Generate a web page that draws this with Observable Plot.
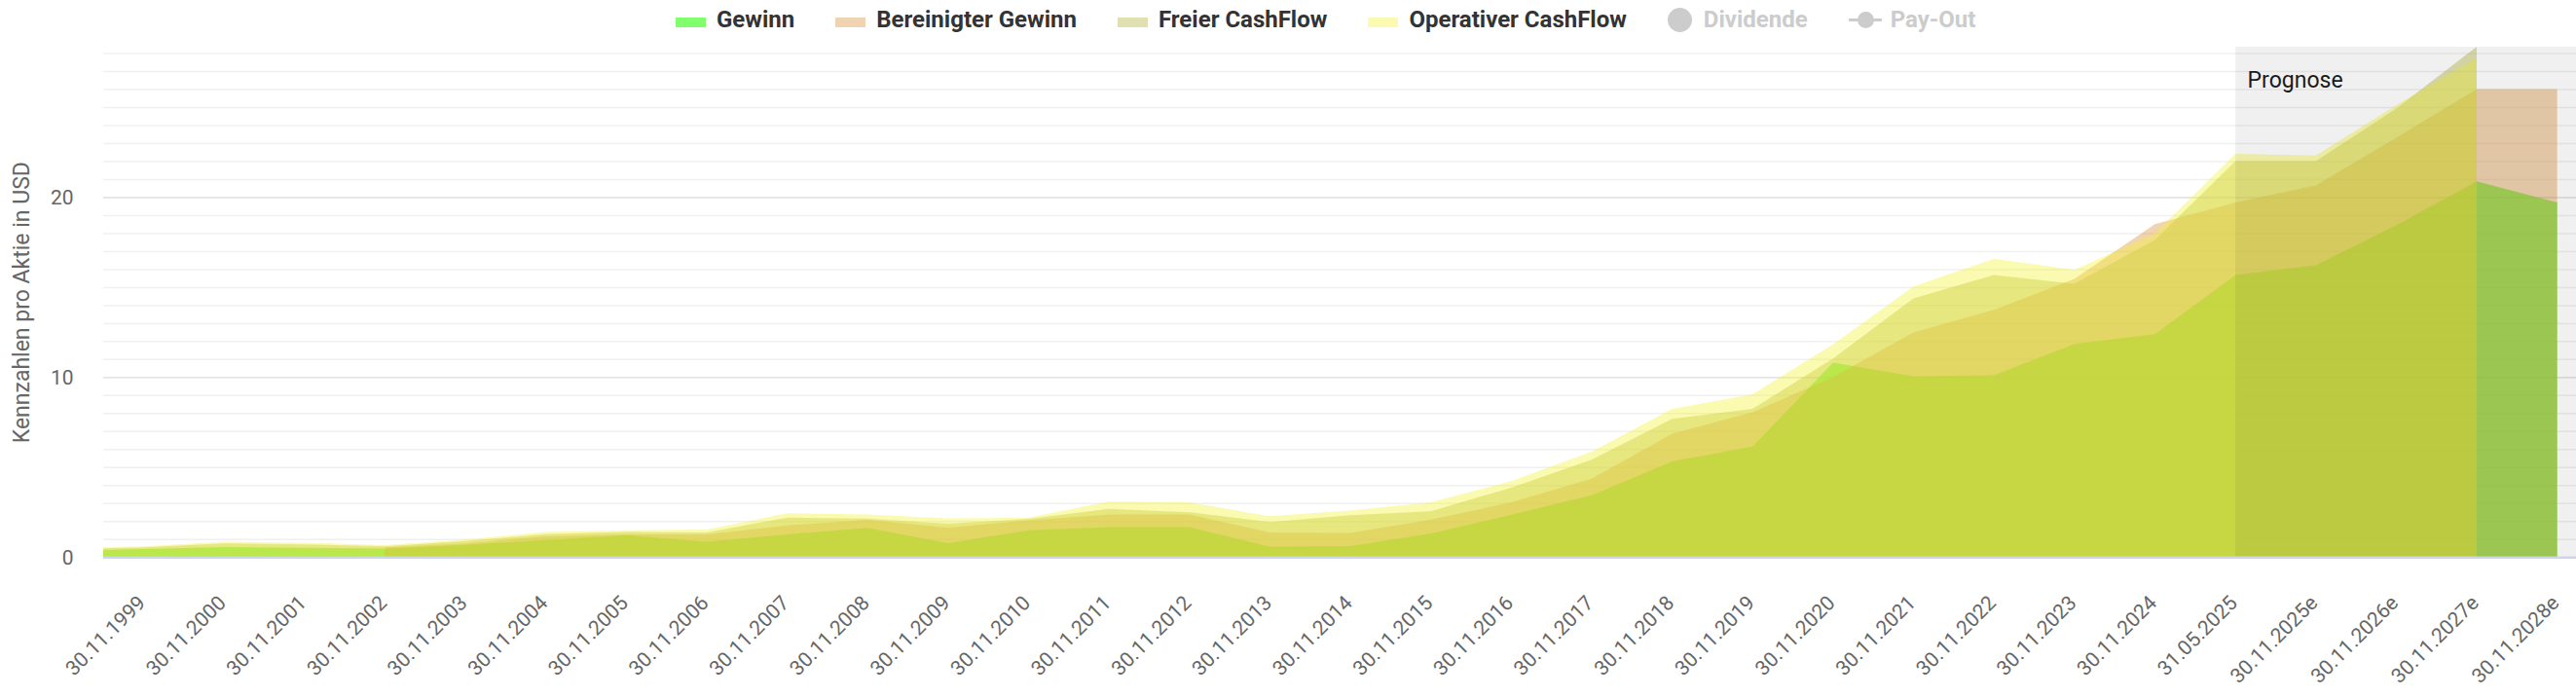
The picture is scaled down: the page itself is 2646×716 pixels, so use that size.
<!DOCTYPE html>
<html><head><meta charset="utf-8">
<script src="https://cdn.jsdelivr.net/npm/d3@7"></script>
<script src="https://cdn.jsdelivr.net/npm/@observablehq/plot@0.6"></script>
<style>
html,body{margin:0;padding:0;background:#fff;}
body{width:2646px;height:716px;overflow:hidden;font-family:Roboto,sans-serif;}
#legend{height:40px;display:flex;align-items:center;padding-left:694px;box-sizing:border-box;font-weight:bold;font-size:24px;color:#333;}
.item{display:flex;align-items:center;margin-right:42px;white-space:nowrap;}
.sw{width:31px;height:10px;margin-right:11px;margin-top:5px;}
.dot{width:25px;height:25px;border-radius:50%;background:#ccc;margin-right:12px;}
.po{position:relative;width:34px;height:25px;margin-right:9px;}
.po:before{content:"";position:absolute;left:0;right:0;top:11px;height:3px;background:#ccc;}
.po:after{content:"";position:absolute;left:9px;top:4px;width:17px;height:17px;border-radius:50%;background:#ccc;}
.off{color:#ccc;}
</style></head>
<body>
<div id="legend"></div>
<div id="chart"></div>
<script>
// categories (first entry lies left of the visible range, clipped at the plot edge)
const categories = ["30.11.1998","30.11.1999","30.11.2000","30.11.2001","30.11.2002","30.11.2003","30.11.2004","30.11.2005","30.11.2006","30.11.2007","30.11.2008","30.11.2009","30.11.2010","30.11.2011","30.11.2012","30.11.2013","30.11.2014","30.11.2015","30.11.2016","30.11.2017","30.11.2018","30.11.2019","30.11.2020","30.11.2021","30.11.2022","30.11.2023","30.11.2024","31.05.2025","30.11.2025e","30.11.2026e","30.11.2027e","30.11.2028e"];
const gewinn = [0.35,0.45,0.56,0.52,0.48,0.68,0.95,1.22,0.85,1.26,1.62,0.78,1.49,1.67,1.67,0.58,0.61,1.31,2.35,3.44,5.32,6.14,10.8,10.04,10.10,11.85,12.39,15.67,16.21,18.43,20.87,19.70];
const bereinigterGewinn = [null,null,null,null,0.55,0.76,1.15,1.26,1.26,1.76,2.07,1.64,2.04,2.37,2.37,1.37,1.34,2.09,3.04,4.35,6.86,8.05,10.0,12.48,13.74,15.45,18.49,19.70,20.65,23.3,26.0,26.0];
const freierCashFlow = [0.42,0.55,0.76,0.71,0.60,0.90,1.27,1.40,1.37,2.19,2.14,1.85,2.13,2.68,2.49,1.95,2.33,2.55,3.86,5.41,7.68,8.23,11.03,14.37,15.67,15.18,17.62,21.99,21.99,24.92,28.35,null];
const operativerCashFlow = [0.48,0.60,0.85,0.80,0.67,0.98,1.40,1.49,1.53,2.44,2.37,2.15,2.19,3.08,3.04,2.27,2.58,3.04,4.22,5.86,8.23,9.05,11.82,15.04,16.57,15.96,17.98,22.40,22.31,25.11,27.72,null];
const seriesNames = ["Gewinn","Bereinigter Gewinn","Freier CashFlow","Operativer CashFlow"];
const hiddenSeries = ["Dividende","Pay-Out"];
const forecastStart = "31.05.2025";
const yTicks = [0,10,20];
const yLabel = "Kennzahlen pro Aktie in USD";

const fills = ["#58ff3b","#d99139","#b2b23a","#f2f23a"];
const opac = [0.75,0.4,0.4,0.4];
const swatches = ["#82ff6c","#f0d3b0","#e0e0b0","#fafab0"];

const values = [gewinn, bereinigterGewinn, freierCashFlow, operativerCashFlow];
const rows = [];
values.forEach((arr, s) => arr.forEach((v, k) => { if (v != null) rows.push({series: seriesNames[s], i: k - 1, v}); }));
const yMax = d3.max(rows, d => d.v);
const nVisible = categories.length - 1;
const xDomain = [-0.5, nVisible - 0.5];
const iForecast = categories.indexOf(forecastStart) - 1;

// legend
const lg = document.getElementById("legend");
seriesNames.forEach((n, s) => {
  const it = document.createElement("div"); it.className = "item";
  it.innerHTML = `<div class="sw" style="background:${swatches[s]}"></div><span>${n}</span>`;
  lg.appendChild(it);
});
hiddenSeries.forEach((n, s) => {
  const it = document.createElement("div"); it.className = "item off";
  it.innerHTML = `<div class="${s === 0 ? "dot" : "po"}"></div><span>${n}</span>`;
  lg.appendChild(it);
});

const minorTicks = d3.range(0, Math.floor(yMax) + 1);

const chart = Plot.plot({
  width: 2646, height: 676,
  marginTop: 8, marginBottom: 143.7, marginLeft: 106, marginRight: 0,
  style: {fontFamily: "Roboto, sans-serif", background: "#fff"},
  x: {domain: xDomain, range: [106, 2668]},
  y: {domain: [0, yMax]},
  marks: [
    Plot.ruleY(minorTicks, {stroke: "#f0f0f0", strokeWidth: 1.5}),
    Plot.ruleY(yTicks, {stroke: "#e3e3e3", strokeWidth: 1.5}),
    ...seriesNames.map((n, s) => Plot.areaY(rows.filter(d => d.series === n), {
      x: "i", y: "v", fill: fills[s], fillOpacity: opac[s], clip: true
    })),
    Plot.rect([{x1: iForecast, x2: xDomain[1]}], {x1: "x1", x2: "x2", fill: "#000", fillOpacity: 0.06, clip: true}),
    Plot.ruleY([0], {stroke: "#ccd6eb", strokeWidth: 2.5}),
    Plot.text([forecastStart], {x: () => iForecast, text: () => "Prognose", frameAnchor: "top", textAnchor: "start", dx: 12, dy: 25, fontSize: 23, fill: "#1a1a1a"}),
    Plot.axisY({ticks: yTicks, tickSize: 0, tickPadding: 31, fontSize: 21, color: "#666", label: null}),
    Plot.axisY({ticks: [], label: yLabel, labelAnchor: "center", labelArrow: "none", labelOffset: 93, fontSize: 23, color: "#666"}),
    Plot.axisX({ticks: d3.range(0, nVisible), tickFormat: i => categories[i + 1], tickRotate: -45, tickSize: 0, tickPadding: 43, dx: -2, fontSize: 21, color: "#666", label: null})
  ]
});
document.getElementById("chart").appendChild(chart);
</script>
</body></html>
